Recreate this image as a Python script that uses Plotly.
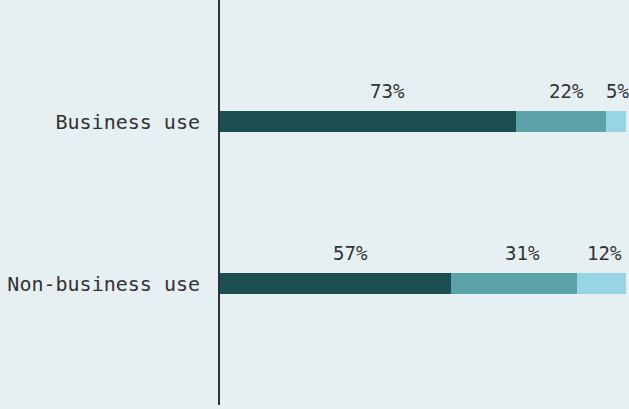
import plotly.graph_objects as go

categories = ["Business use", "Non-business use"]
series_names = ["High", "Medium", "Low"]
values = {
    "High": [73, 57],
    "Medium": [22, 31],
    "Low": [5, 12],
}
colors = ["#1a4e51", "#5ba3a8", "#97d5e4"]
bg = "#e6eff1"
font_family = "DejaVu Sans Mono"
text_color = "#333333"

fig = go.Figure()
for name, col in zip(series_names, colors):
    fig.add_trace(go.Bar(
        y=categories, x=values[name], orientation="h", name=name,
        marker=dict(color=col, line=dict(width=0)), width=0.125,
        hoverinfo="skip",
    ))

annotations = []
for i, cat in enumerate(categories):
    start = 0
    for name in series_names:
        v = values[name][i]
        annotations.append(dict(
            x=start + v * 0.565, y=cat, xref="x", yref="y",
            text=f"{v}%", showarrow=False, yshift=31,
            font=dict(family=font_family, size=19, color=text_color),
        ))
        start += v

fig.update_layout(
    barmode="stack",
    width=629, height=409,
    margin=dict(l=220, r=3, t=0, b=4),
    paper_bgcolor=bg, plot_bgcolor=bg,
    showlegend=False,
    annotations=annotations,
    xaxis=dict(visible=False, range=[0, 100], fixedrange=True),
    yaxis=dict(
        type="category", categoryarray=categories, range=[1.75, -0.75],
        showline=True, linecolor="#333333", linewidth=2,
        showgrid=False, zeroline=False, ticks="",
        ticklabelstandoff=14,
        tickfont=dict(family=font_family, size=20, color=text_color),
    ),
)

fig.write_html("out.html")
